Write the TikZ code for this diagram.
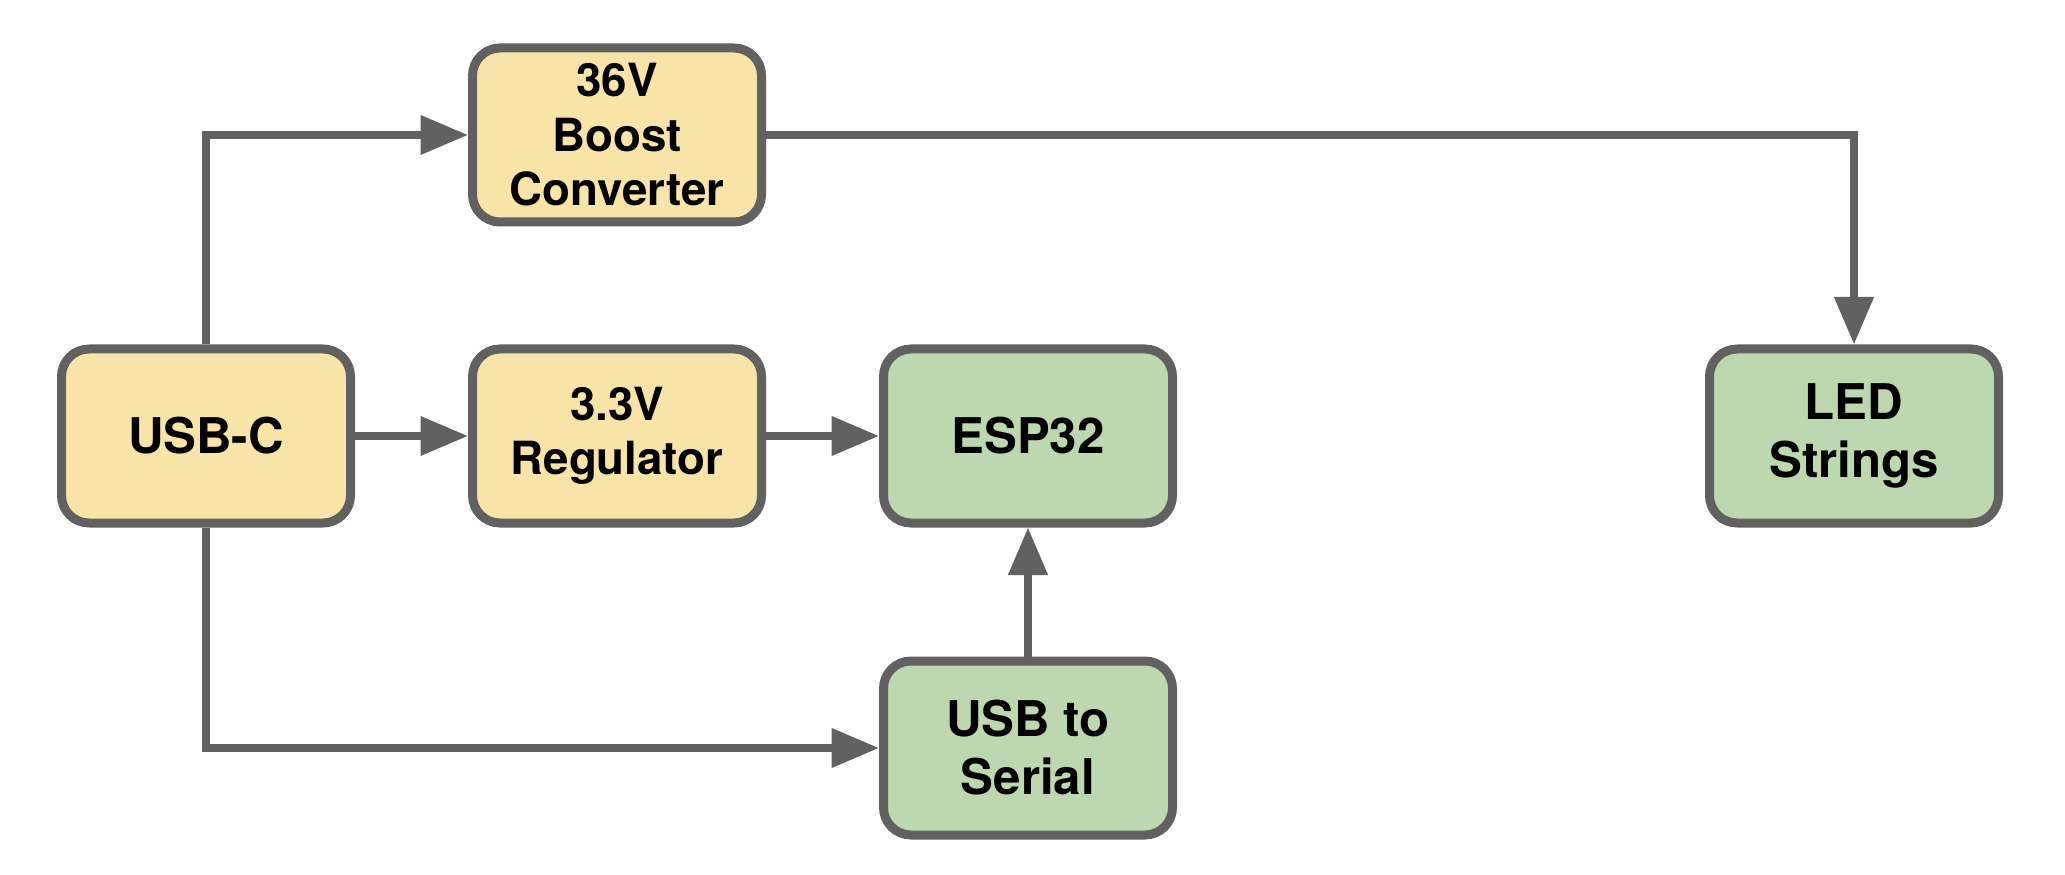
\documentclass[tikz,border=0pt]{standalone}
\usepackage{fontspec}
\setmainfont{TeX Gyre Heros}
\usepackage{tikz}
\usetikzlibrary{arrows.meta, shapes, positioning, calc}
\definecolor{psu}{HTML}{F9E4A7}
\definecolor{logic}{HTML}{BDD7AE}
\definecolor{wire}{HTML}{616161}
\tikzset{
    -|/.style={to path={-| (\tikztotarget)}},
    |-/.style={to path={|- (\tikztotarget)}},
}

\begin{document}
\begin{tikzpicture}
            [-{Triangle[length=0.95cm, width=0.76cm]}, line width=0.15cm, draw=wire,
            node distance=2.26cm,
            block/.style={rectangle, rounded corners=0.55cm, align=center, draw=wire,
                line width=0.18cm, minimum width=5.78cm, minimum height=3.48cm,
                font=\fontsize{28}{33}\selectfont\bfseries},
            small/.style={font=\fontsize{26}{31}\selectfont\bfseries},
            power/.style={block, fill=psu},
            mcu/.style={block, fill=logic}]

            \useasboundingbox (0,0) rectangle (41.3,-17.5);

            \node[power] (usbc) at (4.12,-8.72) {USB-C};
            \node[power,small] (reg) [right = of usbc] {3.3V\\Regulator};
            \node[power,small] (boost) [above = 2.36cm of reg] {36V\\Boost\\Converter};
            \node[mcu] (esp) [right = of reg] {ESP32};
            \node[mcu] (serial) [below = 2.58cm of esp] {USB to\\Serial};
            \node[mcu] (led) [right = 10.56cm of esp] {LED\\Strings};

            \draw[color=wire] (usbc) edge (reg);
            \draw[color=wire] (reg) edge (esp);
            \draw[color=wire] (serial) edge (esp);
            \draw[color=wire] (usbc) |- (boost);
            \draw[color=wire] (usbc) |- (serial);
            \draw[color=wire] (boost) -| (led);

          \end{tikzpicture}
\end{document}
